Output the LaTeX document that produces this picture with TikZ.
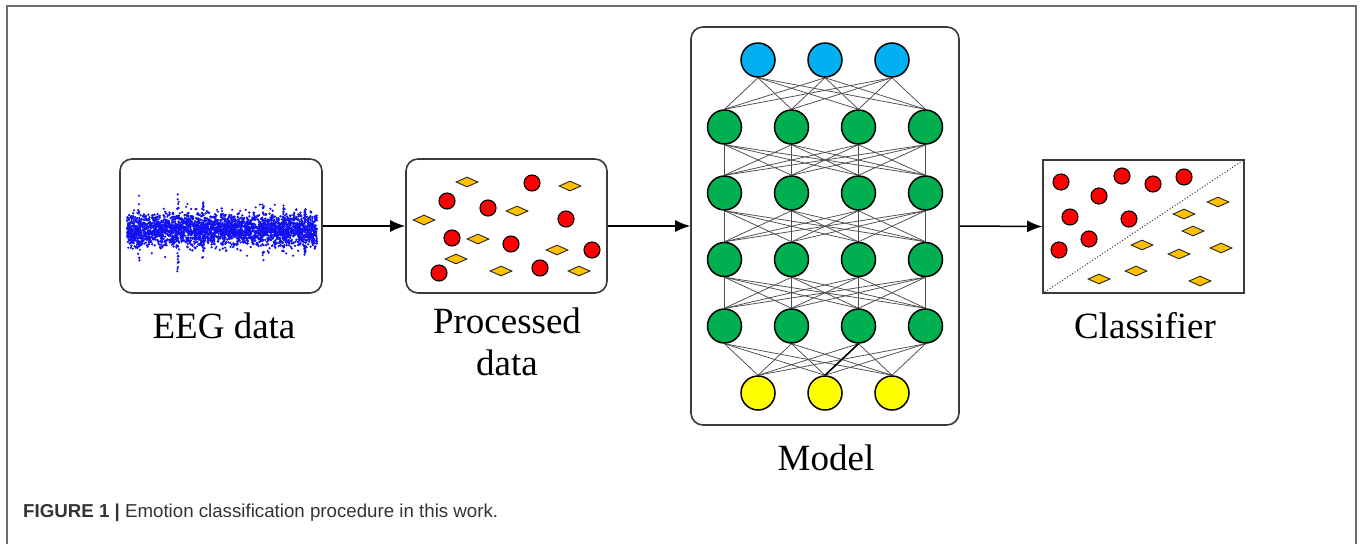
\documentclass[tikz,border=0pt]{standalone}
\usepackage{fontspec}
\setmainfont{Liberation Serif}
\newfontfamily\capfont{Liberation Sans}
\usetikzlibrary{shapes.geometric,arrows.meta,backgrounds}

\definecolor{framegray}{HTML}{6E6E6E}
\definecolor{boxgray}{HTML}{3A3A3A}
\definecolor{eegblue}{HTML}{1010F0}
\definecolor{dotred}{HTML}{FF0000}
\definecolor{gemgold}{HTML}{FFC000}
\definecolor{outblue}{HTML}{00B0F0}
\definecolor{hidgreen}{HTML}{00B050}
\definecolor{inyellow}{HTML}{FFFF00}
\definecolor{captext}{HTML}{333333}

\tikzset{
  panel/.style={draw=boxgray, line width=1.6pt, rounded corners=12pt, inner sep=0pt},
  plainpanel/.style={draw=boxgray, line width=1.6pt, inner sep=0pt},
  dot/.style={circle, draw=black, line width=1.1pt, fill=dotred, minimum size=16pt, inner sep=0pt},
  gem/.style={diamond, draw=black!85, line width=0.9pt, fill=gemgold, minimum width=22pt, minimum height=10pt, inner sep=0pt},
  neuron/.style={circle, draw=black, line width=1.5pt, minimum size=34pt, inner sep=0pt},
  link/.style={draw=black!70, line width=0.75pt},
  flow/.style={-{Latex[length=15pt,width=12pt]}, line width=1.5pt},
  title/.style={font=\fontsize{37}{42}\selectfont, align=center, inner sep=0pt}
}

\begin{document}
\begin{tikzpicture}[x=1pt,y=-1pt]
\useasboundingbox (0,0) rectangle (1360,544);
\begin{scope}[on background layer]
  \fill[white] (0,0) rectangle (1360,544);
\end{scope}

% outer figure frame (open at the bottom)
\draw[framegray, line width=2pt] (7,544) -- (7,6) -- (1356,6) -- (1356,544);

% ---------- EEG data panel ----------
\node[panel, minimum width=202pt, minimum height=134pt] (eeg) at (221,226) {};
\pgfmathsetseed{31}
\begin{scope}
  \clip (126,185) rectangle (318,275);
  % dense band
  \foreach \i in {1,...,2600}{
    \pgfmathsetmacro\px{127+190*rnd}
    \pgfmathsetmacro\py{230+7.5*(rand+rand+rand)}
    \fill[eegblue] (\px,\py) circle (1.3pt);
  }
  % scattered outliers
  \foreach \i in {1,...,320}{
    \pgfmathsetmacro\px{127+190*rnd}
    \pgfmathsetmacro\py{230+14*(rand+rand)}
    \fill[eegblue] (\px,\py) circle (1.2pt);
  }
  % artefact spikes
  \foreach \sx/\top/\bot in {139/189/262, 178/192/273, 203/200/258, 263/203/262, 283/208/257, 305/205/258}{
    \foreach \j in {1,...,26}{
      \pgfmathsetmacro\px{\sx+0.8*rand}
      \pgfmathsetmacro\py{\top+(\bot-\top)*rnd}
      \fill[eegblue] (\px,\py) circle (1.2pt);
    }
  }
\end{scope}
\node[title, anchor=base] (eeglabel) at (224,338) {EEG data};

% ---------- processed data panel ----------
\node[panel, minimum width=201pt, minimum height=134pt] (proc) at (506.5,226) {};
\foreach \n/\x/\y in {p1/532/183, p2/447/201, p3/488/208, p4/566/219, p5/452/238,
                      p6/511/244, p7/592/250, p8/439/273, p9/540/268}
  \node[dot] (\n) at (\x,\y) {};
\foreach \n/\x/\y in {q1/467/182, q2/570/186, q3/424/220, q4/517/211, q5/478/239,
                      q6/456/259, q7/557/250, q8/501/271, q9/579/271}
  \node[gem] (\n) at (\x,\y) {};
\node[title, anchor=base] (proclabel) at (507,375) {Processed\\data};

% ---------- model panel ----------
\node[panel, minimum width=268pt, minimum height=398pt] (model) at (825,226) {};
\foreach \k/\x in {1/758, 2/825, 3/892}{
  \node[neuron, fill=outblue] (o\k) at (\x,60) {};
  \node[neuron, fill=inyellow] (i\k) at (\x,393) {};
}
\foreach \r/\y in {1/127, 2/193, 3/259.5, 4/326}
  \foreach \c/\x in {1/724.5, 2/791.5, 3/858.5, 4/925.5}
    \node[neuron, fill=hidgreen] (h\r\c) at (\x,\y) {};
\begin{scope}[on background layer]
  \foreach \a in {1,2,3}
    \foreach \c in {1,2,3,4}{
      \draw[link] (o\a.south) -- (h1\c.north);
      \draw[link] (h4\c.south) -- (i\a.north);
    }
  \foreach \r/\s in {1/2, 2/3, 3/4}
    \foreach \a in {1,2,3,4}
      \foreach \b in {1,2,3,4}
        \draw[link] (h\r\a.south) -- (h\s\b.north);
  \draw[black, line width=1.6pt] (h43.south) -- (i2.north);
\end{scope}
\node[title, anchor=base] (modellabel) at (826,470) {Model};

% ---------- classifier panel ----------
\node[plainpanel, minimum width=201pt, minimum height=133pt] (cls) at (1143.5,226.5) {};
\draw[black!80, line width=1pt, dotted] (cls.south west) -- (cls.north east);
\foreach \n/\x/\y in {c1/1061/182, c2/1122/176, c3/1153/184, c4/1184/177, c5/1099/196,
                      c6/1070/217, c7/1129/219, c8/1089/239, c9/1059/250}
  \node[dot] (\n) at (\x,\y) {};
\foreach \n/\x/\y in {d1/1218/202, d2/1184/214, d3/1193/231, d4/1142/245, d5/1221/248,
                      d6/1179/254, d7/1136/271, d8/1099/279, d9/1200/281}
  \node[gem] (\n) at (\x,\y) {};
\node[title, anchor=base] (clslabel) at (1145,338) {Classifier};

% ---------- flow arrows ----------
\draw[flow] (eeg.east) -- (proc.west);
\draw[flow] (proc.east) -- (model.west);
\draw[flow] (model.east) -- (cls.west);

% ---------- caption ----------
\node[anchor=base west, inner sep=0pt, text=captext,
      font=\capfont\fontsize{18.7}{20}\selectfont] (caption) at (23,517)
  {\textbf{FIGURE 1 |} Emotion classification procedure in this work.};
\end{tikzpicture}
\end{document}
